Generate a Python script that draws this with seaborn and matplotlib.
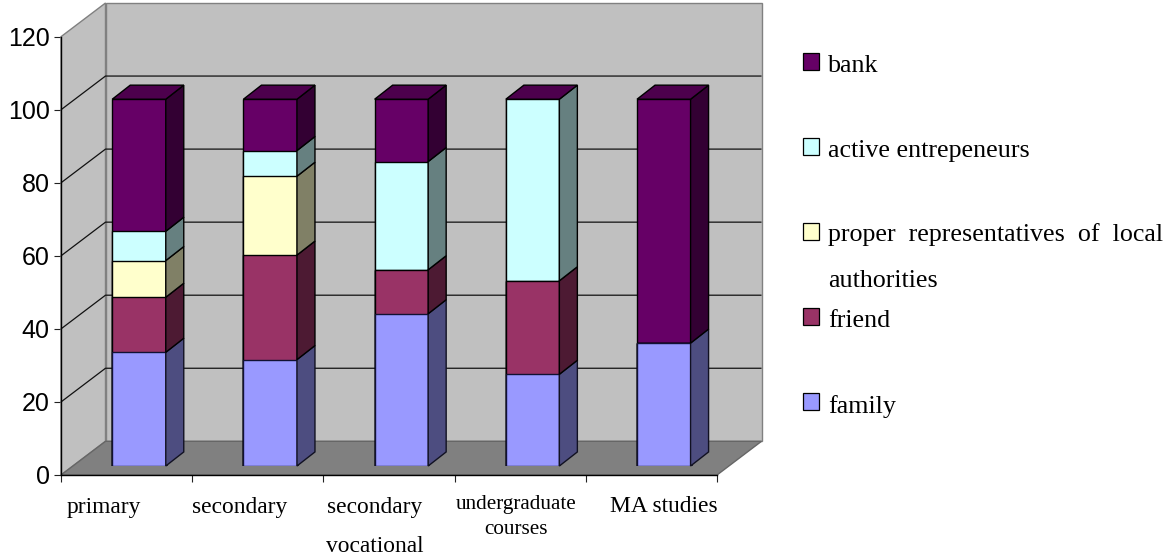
import matplotlib
matplotlib.use("Agg")
import matplotlib.pyplot as plt
from matplotlib.patches import Polygon, Rectangle
import numpy as np
import seaborn as sns

categories = ["primary", "secondary", "secondary vocational", "undergraduate courses", "MA studies"]
family = [31, 29, 41.5, 25, 33.5]
friend = [15, 28.5, 12, 25.5, 0]
representatives = [10, 21.5, 0, 0, 0]
entrepreneurs = [8, 7, 29.5, 49.5, 0]
bank = [36, 14, 17, 0, 66.5]
y_ticks = [0, 20, 40, 60, 80, 100, 120]

series_names = ["family", "friend", "proper  representatives  of  local", "active entrepeneurs", "bank"]
front_colors = ["#9999FF", "#993366", "#FFFFCC", "#CCFFFF", "#660066"]
side_colors = ["#4D4D80", "#4D1A33", "#808066", "#668080", "#330033"]
top_color = "#4D004D"

W, H = 1165, 557
AX_L, AX_R, AX_B, AX_T = 61.0, 717.0, 475.0, 36.7   # plot box of the front plane, pixels
WALL_DX, WALL_DY = 44.5, 33.7                       # depth of the box, pixels
BAR_DX, BAR_DY = 12.4, 9.0                          # gap between front plane and bars, pixels
SIDE_DX, SIDE_DY = 18.0, 14.0                       # depth of each bar, pixels
BAR_WIDTH = 0.408

sns.set_style("white")
plt.rcParams["font.family"] = ["Liberation Serif", "DejaVu Serif"]

fig = plt.figure(figsize=(W / 100, H / 100), dpi=100, facecolor="white")


def box(dx=0.0, dy=0.0):
    return [(AX_L + dx) / W, (H - AX_B + dy) / H, (AX_R - AX_L) / W, (AX_B - AX_T) / H]


ax = fig.add_axes(box())
ax_bars = fig.add_axes(box(BAR_DX, BAR_DY), sharex=None)
overlay = fig.add_axes([0, 0, 1, 1])

x_range = (-0.5, 4.5)
y_range = (0, 120)
bar_y_range = (0, 119.5)   # columns sit slightly nearer the viewer, so they scale up a little
px_x = (x_range[1] - x_range[0]) / (AX_R - AX_L)
px_y = (y_range[1] - y_range[0]) / (AX_B - AX_T)

# Chart box: walls, floor and gridlines
ax.set_facecolor("none")
ax.set_xlim(*x_range)
ax.set_ylim(*y_range)
wx, wy = WALL_DX * px_x, WALL_DY * px_y
x0, x1 = x_range
ymax = y_range[1]
wall_grey = "#C0C0C0"
edge_grey = "#808080"
ax.add_patch(Polygon([(x0 + wx, wy), (x1 + wx, wy), (x1 + wx, ymax + wy), (x0 + wx, ymax + wy)],
                     fc=wall_grey, ec=edge_grey, lw=1.0, clip_on=False, zorder=1))
ax.add_patch(Polygon([(x0, 0), (x0 + wx, wy), (x0 + wx, ymax + wy), (x0, ymax)],
                     fc=wall_grey, ec=edge_grey, lw=1.0, clip_on=False, zorder=1))
ax.add_patch(Polygon([(x0, 0), (x1, 0), (x1 + wx, wy), (x0 + wx, wy)],
                     fc=edge_grey, ec="#666666", lw=1.0, clip_on=False, zorder=1.1))
for t in y_ticks[1:-1]:
    ax.plot([x0, x0 + wx, x1 + wx], [t, t + wy, t + wy], color="#111111", lw=0.9,
            clip_on=False, zorder=1.2, solid_capstyle="butt")

ax.set_xticks(np.arange(x0, x1 + 0.5))
ax.set_xticklabels([])
ax.set_yticks(y_ticks)
ax.set_yticklabels([str(t) for t in y_ticks], family="Liberation Sans", fontsize=18, color="black")
ax.tick_params(axis="both", which="major", length=5.2, width=0.8, color="#222222",
               left=True, bottom=True, pad=3)
for name, spine in ax.spines.items():
    spine.set_visible(name in ("left", "bottom"))
    spine.set_color("black")
    spine.set_linewidth(1.0)
    spine.set_zorder(3)

# Stacked columns: cumulative totals are drawn tallest first
ax_bars.set_facecolor("none")
stacks = np.array([family, friend, representatives, entrepreneurs, bank], dtype=float)
cumulative = np.cumsum(stacks, axis=0)
for level in range(len(stacks) - 1, -1, -1):
    sns.barplot(x=list(range(len(categories))), y=cumulative[level], color=front_colors[level],
                saturation=1, width=BAR_WIDTH, edgecolor="#111133" if level == 0 else "black",
                linewidth=1.0, ax=ax_bars, zorder=2)
ax_bars.set_xlim(*x_range)
ax_bars.set_ylim(*bar_y_range)
ax_bars.axis("off")

# Side and top faces of each column
sx, sy = SIDE_DX * px_x, SIDE_DY * px_y
for i in range(len(categories)):
    right = i + BAR_WIDTH / 2
    left = i - BAR_WIDTH / 2
    bottom = 0.0
    for level in range(len(stacks)):
        top = cumulative[level, i]
        if top > bottom:
            ax_bars.add_patch(Polygon(
                [(right, bottom), (right + sx, bottom + sy), (right + sx, top + sy), (right, top)],
                fc=side_colors[level], ec="#111122" if level == 0 else "black",
                lw=1.0, clip_on=False, zorder=2))
        bottom = top
    ax_bars.add_patch(Polygon(
        [(left, bottom), (right, bottom), (right + sx, bottom + sy), (left + sx, bottom + sy)],
        fc=top_color, ec="black", lw=1.0, clip_on=False, zorder=2))

# Category labels and legend, positioned in pixels
overlay.set_xlim(0, W)
overlay.set_ylim(H, 0)
overlay.axis("off")
overlay.patch.set_alpha(0)

label_spec = [
    ("primary", 103.5, 512.5, 16.9),
    ("secondary", 239.5, 512.5, 16.9),
    ("secondary", 375, 512.5, 16.9),
    ("vocational", 375, 552.5, 16.9),
    ("undergraduate", 516, 509.5, 15.2),
    ("courses", 516, 534.5, 15.2),
    ("MA studies", 664, 512.5, 16.9),
]
for text, x, y, size in label_spec:
    overlay.text(x, y, text, ha="center", va="baseline", fontsize=size, color="black")

legend_rows = list(zip(series_names[::-1], front_colors[::-1]))
legend_baselines = [72, 157, 241, 327, 413]
for row, (name, color) in enumerate(legend_rows):
    top = 53 + row * 85
    overlay.add_patch(Rectangle((802.5, top), 16.5, 16.5, fc=color, ec="black", lw=0.9))
    overlay.text(828, legend_baselines[row], name, ha="left", va="baseline", fontsize=18.7, color="black")
overlay.text(828, 287, "authorities", ha="left", va="baseline", fontsize=18.7, color="black")

fig.savefig("out.png", dpi=100, facecolor="white")
